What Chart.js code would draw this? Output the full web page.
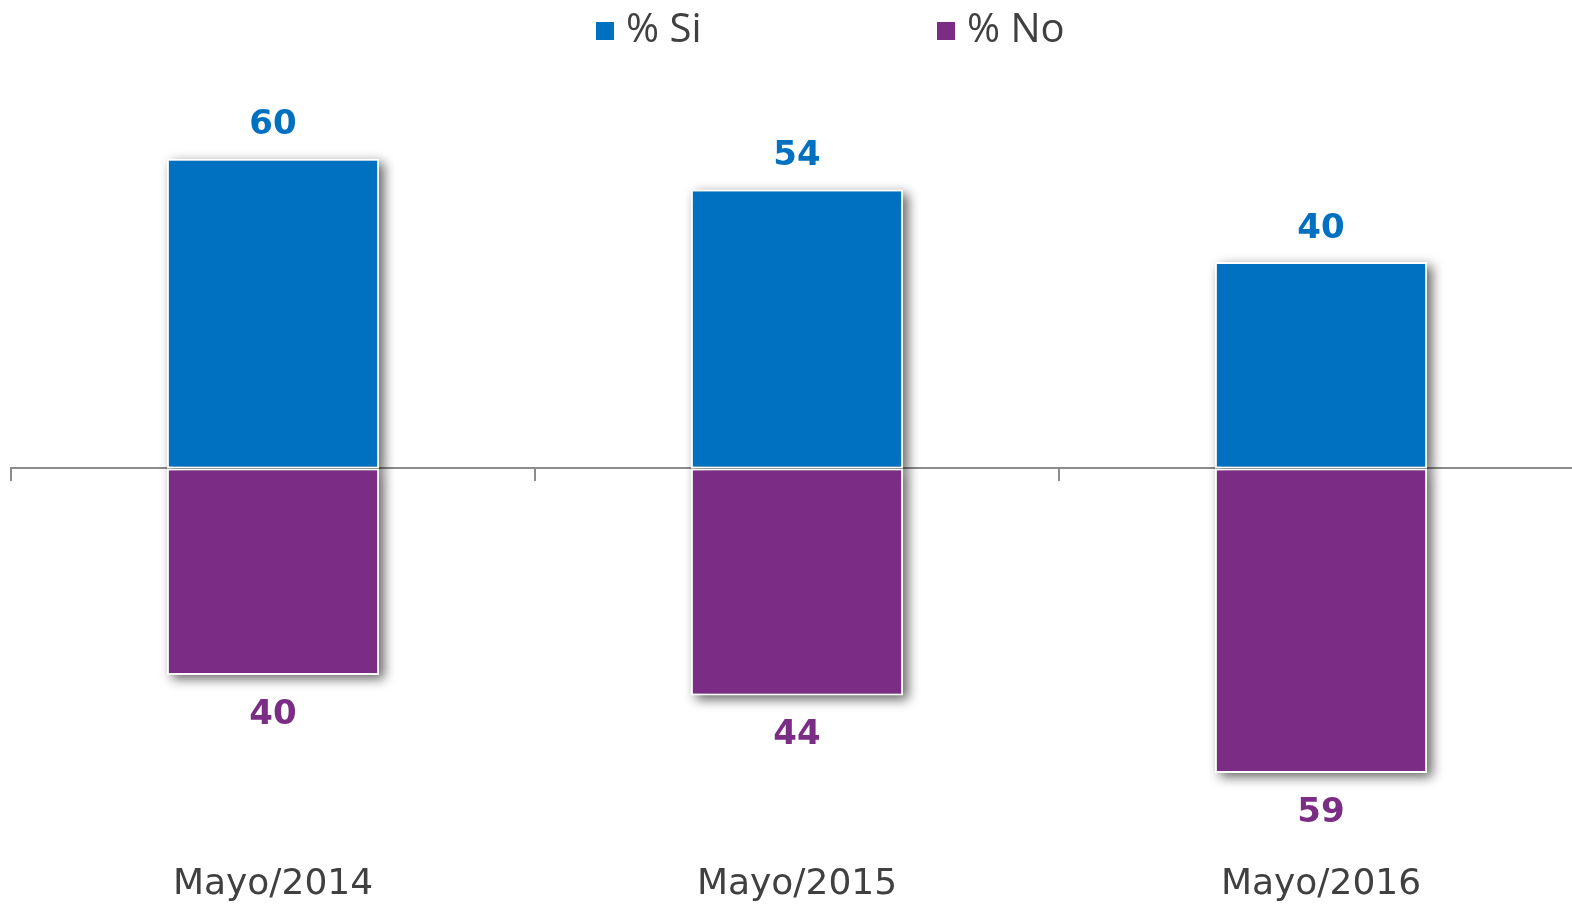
<!DOCTYPE html>
<html>
<head>
<meta charset="utf-8">
<script src="https://cdn.jsdelivr.net/npm/chart.js@4.4.1/dist/chart.umd.min.js"></script>
<style>
    html, body { margin: 0; padding: 0; background: #ffffff; overflow: hidden; }
    #wrap { position: relative; width: 1594px; height: 904px; }
</style>
</head>
<body>
<div id="wrap"><canvas id="chart"></canvas></div>
<script>
// Values
const categories = ['Mayo/2014', 'Mayo/2015', 'Mayo/2016'];
const siValues = [60, 54, 40];
const noValues = [40, 44, 59];
const seriesNames = ['% Si', '% No'];

const BLUE = '#0070c0';
const PURPLE = '#7b2c85';
const TEXT = '#404040';
const FONT = "'DejaVu Sans', sans-serif";

// Blurred drop shadow behind each bar
const barShadow = {
    id: 'barShadow',
    beforeDatasetsDraw(chart) {
        const ctx = chart.ctx;
        ctx.save();
        ctx.filter = 'blur(6px)';
        ctx.fillStyle = 'rgba(0, 0, 0, 0.6)';
        chart.data.datasets.forEach((ds, i) => {
            chart.getDatasetMeta(i).data.forEach(bar => {
                const { x, y, base, width } = bar.getProps(['x', 'y', 'base', 'width'], true);
                const top = Math.min(y, base), h = Math.abs(base - y);
                ctx.fillRect(x - width / 2 + 5, top + 4, width, h);
            });
        });
        ctx.restore();
    }
};

// Value labels above / below each bar end
const valueLabels = {
    id: 'valueLabels',
    afterDatasetsDraw(chart) {
        const ctx = chart.ctx;
        ctx.save();
        ctx.font = 'bold 34px ' + FONT;
        ctx.textAlign = 'center';
        ctx.textBaseline = 'middle';
        chart.data.datasets.forEach((ds, i) => {
            const meta = chart.getDatasetMeta(i);
            ctx.fillStyle = ds.labelColor;
            meta.data.forEach((bar, j) => {
                const v = Math.abs(ds.data[j]);
                const y = ds.data[j] >= 0 ? bar.y - 33 : bar.y + 40;
                ctx.fillText(String(v), bar.x, y);
            });
        });
        ctx.restore();
    }
};

// Legend drawn at the top
const topLegend = {
    id: 'topLegend',
    afterDraw(chart) {
        const ctx = chart.ctx;
        ctx.save();
        ctx.font = "40px 'Open Sans', sans-serif";
        ctx.textBaseline = 'middle';
        const startX = 596, step = 341, cy = 31;
        chart.data.datasets.forEach((ds, i) => {
            const x = startX + i * step;
            ctx.fillStyle = ds.backgroundColor;
            ctx.fillRect(x, cy - 9, 18, 18);
            ctx.fillStyle = TEXT;
            ctx.fillText(ds.label, x + 30, cy);
        });
        ctx.restore();
    }
};

new Chart(document.getElementById('chart'), {
    type: 'bar',
    data: {
        labels: categories,
        datasets: [
            {
                label: seriesNames[0],
                data: siValues,
                backgroundColor: BLUE,
                labelColor: BLUE,
                borderColor: '#ffffff',
                borderWidth: 2,
                borderSkipped: false
            },
            {
                label: seriesNames[1],
                data: noValues.map(v => -v),
                backgroundColor: PURPLE,
                labelColor: PURPLE,
                borderColor: '#ffffff',
                borderWidth: 2,
                borderSkipped: false
            }
        ]
    },
    options: {
        responsive: true,
        maintainAspectRatio: false,
        animation: false,
        barPercentage: 0.405,
        categoryPercentage: 1,
        layout: { padding: { top: 107, left: 11, right: 11, bottom: -35 } },
        plugins: {
            legend: { display: false },
            tooltip: { enabled: false }
        },
        scales: {
            y: {
                display: false,
                stacked: true,
                min: -70,
                max: 70
            },
            x: {
                stacked: true,
                grid: { display: false, drawTicks: false },
                border: { display: false },
                ticks: {
                    color: TEXT,
                    font: { family: FONT, size: 36 },
                    padding: 33
                }
            },
            // zero line with tick marks at category boundaries
            x2: {
                type: 'category',
                position: { y: 0 },
                offset: true,
                z: 1,
                grid: {
                    offset: true,
                    drawOnChartArea: false,
                    drawTicks: true,
                    tickLength: 12,
                    color: '#8c8c8c',
                    lineWidth: 2
                },
                border: { display: true, color: '#8c8c8c', width: 2 },
                ticks: { display: false }
            }
        }
    },
    plugins: [barShadow, valueLabels, topLegend]
});
</script>
</body>
</html>
